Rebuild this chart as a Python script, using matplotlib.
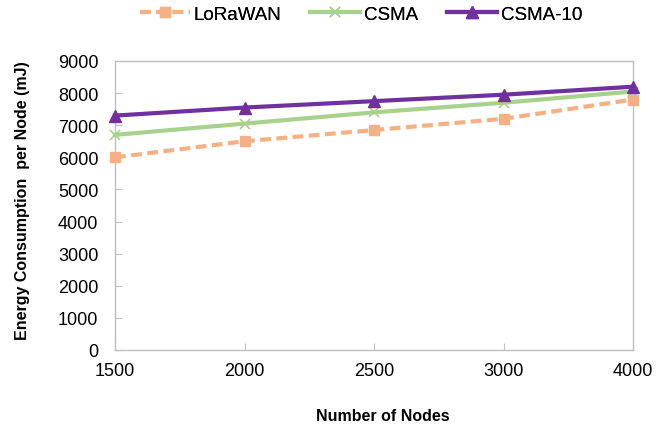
import matplotlib
matplotlib.use("Agg")
import matplotlib.pyplot as plt

plt.rcParams['font.family'] = ['Liberation Sans', 'DejaVu Sans']

nodes = ["1500", "2000", "2500", "3000", "4000"]
lorawan = [6000, 6500, 6850, 7200, 7800]
csma = [6700, 7050, 7400, 7700, 8050]
csma10 = [7300, 7550, 7750, 7950, 8200]
yticks = [0, 1000, 2000, 3000, 4000, 5000, 6000, 7000, 8000, 9000]

fig = plt.figure(figsize=(6.72, 4.31), dpi=100)
ax = fig.add_axes([115/672, 1-351/431, (633-115)/672, (351-62)/431])

x = list(range(len(nodes)))
l1, = ax.plot(x, lorawan, color='#F5B083', lw=3, ls=(0, (2.6, 1.3)), marker='s', ms=7,
              label='LoRaWAN', clip_on=False, zorder=3)
l2, = ax.plot(x, csma, color='#A9D18E', lw=3, marker='x', ms=7, mew=1.2,
              label='CSMA', clip_on=False, zorder=4)
l3, = ax.plot(x, csma10, color='#7030A0', lw=3, marker='^', ms=9,
              label='CSMA-10', clip_on=False, zorder=5)

ax.set_xlim(0, len(nodes)-1)
ax.set_ylim(0, 9000)
ax.set_xticks(x)
ax.set_xticklabels(nodes)
ax.set_yticks(yticks)
ax.tick_params(direction='in', colors='#BFBFBF', labelcolor='black', labelsize=13, length=5)
ax.tick_params(axis='x', pad=9)
ax.tick_params(axis='y', pad=12)
for s in ax.spines.values():
    s.set_color('#BFBFBF')
    s.set_linewidth(1)

ax.set_xlabel('Number of Nodes', fontsize=11.5, fontweight='bold')
ax.xaxis.set_label_coords(0.517, -0.20)
ax.set_ylabel('Energy Consumption  per Node (mJ)', fontsize=11.5, fontweight='bold')
ax.yaxis.set_label_coords(-0.165, 0.52)

for line, xs in [(l1, 140), (l2, 310), (l3, 447)]:
    leg = fig.legend(handles=[line], loc='center left', bbox_to_anchor=(xs/672, 1-15/431),
                     frameon=False, fontsize=13.5, handlelength=2.67, handletextpad=0.2,
                     borderaxespad=0, borderpad=0)
    fig.add_artist(leg)

fig.savefig('out.png', dpi=100)
